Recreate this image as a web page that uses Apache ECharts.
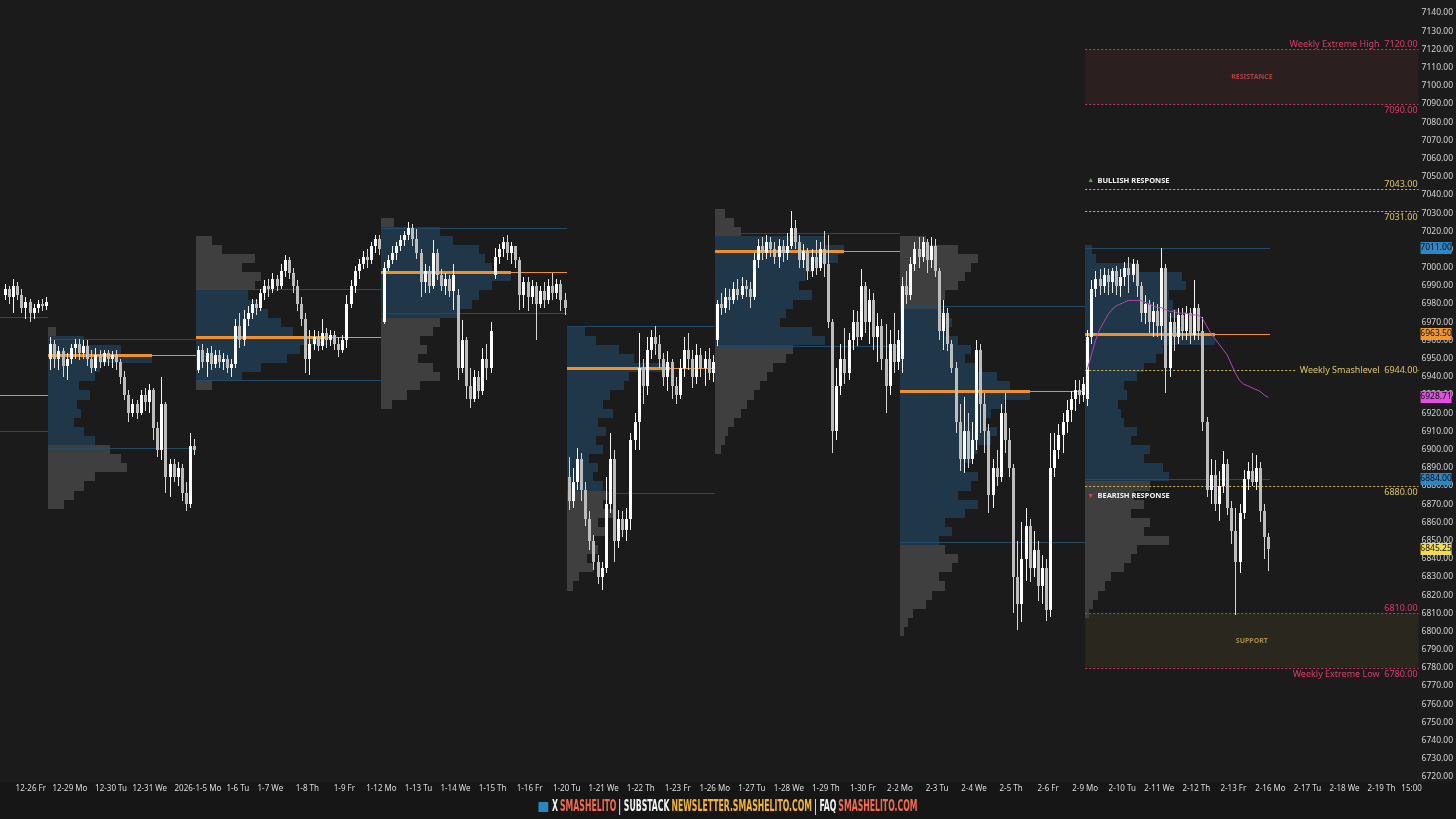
<!DOCTYPE html>
<html>
<head>
<meta charset="utf-8">
<script src="https://cdn.jsdelivr.net/npm/echarts@6/dist/echarts.min.js"></script>
<style>
html,body{margin:0;padding:0;background:#161616;}
#c{width:1456px;height:819px;background:linear-gradient(#1b1b1b 0,#1b1b1b 782px,#161616 782px,#161616 819px);}
</style>
</head>
<body>
<div id="c"></div>
<script>
// ---------------- DATA ----------------
// time axis: 9 bar slots per trading day
const dayLabels = ['12-26 Fr','12-29 Mo','12-30 Tu','12-31 We','2026-1-5 Mo','1-6 Tu','1-7 We','1-8 Th','1-9 Fr',
  '1-12 Mo','1-13 Tu','1-14 We','1-15 Th','1-16 Fr','1-20 Tu','1-21 We','1-22 Th','1-23 Fr','1-26 Mo','1-27 Tu','1-28 We',
  '1-29 Th','1-30 Fr','2-2 Mo','2-3 Tu','2-4 We','2-5 Th','2-6 Fr','2-9 Mo','2-10 Tu','2-11 We','2-12 Th','2-13 Fr',
  '2-16 Mo','2-17 Tu','2-18 We','2-19 Th','15:00'];
const dayLabelSlots = [13.8,23.3,33.3,42.7,54.4,64.1,72,81,90,99,108,117,126,135,144,153,162,171,180,189,198,207,216,
  225,234,243,252,261,270,279,288,297,306,315,324,333,342,349.3];

// candles [open, close, low, high], consecutive slots
const FIRST_SLOT = 7;
const candlesW0 = [[6985,6988,6982,6991],[6988,6984,6980,6990],[6984,6990,6975,6994],[6990,6985,6982,6992],[6985,6978,6975,6988],
  [6978,6981,6972,6984],[6981,6975,6970,6983],[6975,6978,6972,6980],[6978,6980,6975,6982],[6980,6979,6976,6983],[6979,6981,6977,6984]];
const candlesW1 = [[6950,6958,6944,6962],[6958,6950,6945,6960],[6950,6954,6944,6957],[6954,6946,6940,6956],[6946,6950,6938,6953],
  [6950,6956,6947,6958],[6956,6958,6950,6961],[6958,6953,6949,6961],[6953,6957,6950,6960],[6957,6950,6946,6960],[6950,6945,6942,6955],
  [6945,6952,6943,6956],[6952,6948,6945,6955],[6948,6953,6946,6955],[6953,6950,6946,6955],[6950,6952,6945,6954],[6952,6948,6944,6955],
  [6948,6940,6936,6950],[6940,6930,6927,6943],[6930,6920,6915,6933],[6920,6925,6918,6928],[6925,6920,6917,6927],[6920,6930,6919,6933],
  [6930,6926,6921,6934],[6926,6933,6920,6936],[6933,6912,6905,6934],[6912,6900,6896,6915],[6900,6925,6894,6940],[6925,6885,6876,6926],
  [6885,6892,6874,6895],[6892,6885,6882,6895],[6885,6890,6880,6893],[6890,6876,6872,6892],[6876,6870,6866,6882],[6870,6902,6868,6909],
  [6902,6900,6897,6906]];
const candlesW2 = [[6944,6955,6942,6957],[6955,6948,6945,6958],[6948,6953,6940,6956],[6953,6947,6944,6957],[6947,6952,6945,6955],
  [6952,6948,6945,6955],[6948,6950,6944,6953],[6950,6945,6942,6952],[6945,6947,6940,6950],[6947,6968,6945,6972],[6968,6960,6956,6975],
  [6960,6972,6957,6977],[6972,6975,6968,6979],[6975,6980,6972,6983],[6980,6978,6974,6983],[6978,6986,6976,6988],[6986,6990,6982,6993],
  [6990,6988,6984,6994],[6988,6994,6986,6997],[6994,6990,6987,6996],[6990,6998,6988,7002],[6998,7004,6995,7007],[7004,6997,6994,7006],
  [6997,6990,6986,7000],[6990,6980,6976,6993],[6980,6972,6968,6984],[6972,6950,6942,6975],[6950,6958,6941,6966],[6958,6962,6955,6966],
  [6962,6957,6954,6965],[6957,6964,6955,6972],[6964,6960,6956,6967],[6960,6963,6957,6966],[6963,6958,6955,6965],[6958,6955,6951,6962],
  [6955,6960,6953,6963],[6960,6980,6956,6985],[6980,6990,6978,6993],[6990,6998,6986,7001],[6998,7002,6994,7005],[7002,7006,6999,7009],
  [7006,7004,7000,7010],[7004,7012,7002,7014],[7012,7016,7008,7018],[7016,7010,7007,7018]];
const candlesW3 = [[6970,7000,6969,7003],[7000,7004,6998,7007],[7004,7008,7002,7012],[7008,7012,7004,7014],[7012,7015,7009,7018],
  [7015,7018,7012,7020],[7018,7022,7015,7025],[7022,7016,7012,7024],[7016,7008,7005,7021],[7008,6992,6984,7010],[6992,6998,6986,7002],
  [6998,6990,6986,7001],[6990,7008,6988,7015],[7008,6996,6993,7010],[6996,6990,6987,6999],[6990,6994,6985,6997],[6994,6987,6984,6996],
  [6987,6996,6977,7002],[6985,6945,6938,6988],[6945,6960,6942,6971],[6960,6935,6928,6962],[6935,6928,6923,6945],[6928,6940,6926,6944],
  [6940,6932,6928,6943],[6932,6950,6930,6956],[6950,6945,6938,6958],[6945,6965,6942,6970],[6996,7006,6994,7011],[7006,7010,7002,7013],
  [7010,7014,7006,7017],[7014,7008,7004,7018],[7008,7012,7002,7014],[7012,7004,7000,7012],[7004,6985,6977,7006],[6985,6992,6978,6995],
  [6992,6984,6976,6995],[6984,6990,6980,6993],[6990,6980,6960,6992],[6980,6987,6978,6990],[6987,6982,6978,6992],[6982,6990,6980,6994],
  [6990,6986,6982,6997],[6986,6991,6983,6994],[6991,6982,6976,6993],[6982,6978,6974,6986]];
const candlesW4 = [[6885,6872,6867,6896],[6872,6882,6868,6890],[6882,6895,6878,6901],[6895,6878,6872,6898],[6878,6862,6858,6882],
  [6862,6850,6845,6866],[6850,6838,6834,6853],[6838,6830,6826,6842],[6830,6835,6823,6838],[6835,6870,6832,6885],[6870,6895,6865,6909],
  [6895,6850,6838,6900],[6850,6862,6846,6867],[6862,6856,6852,6866],[6856,6862,6850,6868],[6862,6905,6856,6909],[6905,6915,6900,6920],
  [6915,6945,6900,6964],[6945,6935,6925,6950],[6935,6955,6930,6962],[6955,6962,6950,6966],[6962,6958,6952,6968],[6958,6950,6945,6963],
  [6950,6940,6935,6953],[6940,6948,6932,6954],[6948,6935,6928,6950],[6935,6930,6925,6940],[6930,6945,6928,6950],[6945,6955,6940,6962],
  [6955,6950,6944,6964],[6950,6940,6934,6955],[6940,6952,6936,6958],[6952,6945,6940,6956],[6945,6950,6935,6954],[6950,6942,6938,6956],
  [6942,6948,6937,6952]];
const candlesW5 = [[6960,6980,6957,6982],[6980,6978,6974,6986],[6978,6984,6975,6989],[6984,6982,6977,6988],[6982,6988,6980,6992],
  [6988,6985,6982,6994],[6985,6990,6983,6995],[6990,6988,6984,6993],[6988,6984,6978,6992],[6984,7004,6982,7008],[7004,7012,7000,7016],
  [7012,7008,7004,7017],[7008,7014,7005,7018],[7014,7010,7006,7017],[7010,7006,7002,7014],[7006,7012,7000,7016],[7012,7008,7003,7015],
  [7008,7012,7004,7019],[7012,7022,7010,7031],[7022,7014,7010,7026],[7014,7004,7000,7018],[7004,7009,7000,7013],[7009,6998,6993,7011],
  [6998,7006,6995,7010],[7006,7000,6996,7015],[7000,7010,6998,7014],[7010,7002,6995,7020],[7002,6970,6967,7018],[6970,6910,6898,6972],
  [6910,6935,6905,6945],[6935,6950,6930,6958],[6950,6942,6936,6967],[6942,6960,6938,6964],[6960,6970,6955,6977],[6970,6962,6957,6976],
  [6962,6990,6960,6999],[6990,6970,6964,6992],[6970,6982,6958,6988],[6982,6962,6955,6986],[6962,6968,6948,6975],[6968,6950,6944,6972],
  [6950,6935,6920,6969],[6935,6958,6930,6966],[6958,6948,6942,6975],[6948,6960,6944,6966]];
const candlesW6 = [[6950,6990,6942,6995],[6990,6985,6980,6998],[6985,7002,6982,7006],[7002,7010,6998,7014],[7010,7006,7000,7017],
  [7006,7014,7003,7017],[7014,7004,6997,7016],[7004,7012,7000,7017],[7012,6998,6995,7016],[6998,6965,6960,7000],[6965,6975,6955,6982],
  [6975,6958,6954,6978],[6958,6945,6942,6960],[6945,6915,6909,6948],[6915,6895,6888,6925],[6895,6910,6887,6929],[6910,6895,6890,6920],
  [6895,6905,6892,6915],[6905,6955,6900,6960],[6955,6925,6909,6958],[6925,6910,6898,6931],[6910,6875,6865,6914],[6875,6890,6868,6895],
  [6890,6885,6880,6900],[6885,6920,6882,6925],[6920,6905,6898,6931],[6905,6890,6885,6912],[6890,6830,6810,6892],[6830,6815,6801,6850],
  [6815,6840,6805,6860],[6840,6858,6828,6868],[6858,6835,6827,6862],[6835,6845,6830,6855],[6845,6825,6817,6850],[6825,6835,6815,6842],
  [6835,6812,6806,6840],[6812,6890,6808,6909],[6890,6900,6885,6909],[6900,6908,6895,6914],[6908,6915,6898,6920],[6915,6922,6909,6927],
  [6922,6928,6915,6932],[6928,6933,6921,6938],[6933,6930,6925,6938],[6930,6936,6926,6940]];
const candlesW7 = [[6928,6962,6924,6966],[6962,6988,6958,6993],[6988,6994,6984,6998],[6994,6990,6985,6999],[6990,6996,6986,7000],
  [6996,6992,6985,6999],[6992,6998,6986,7000],[6998,6990,6985,7001],[6990,6995,6984,6999],[6995,7000,6990,7003],[7000,6996,6986,7006],
  [6996,7002,6992,7005],[7002,6990,6984,7004],[6990,6975,6970,6992],[6975,6980,6969,6985],[6980,6970,6964,6982],[6970,6976,6962,6981],
  [6976,6968,6962,6980],[6968,7000,6960,7011],[7000,6945,6931,7002],[6945,6970,6940,6975],[6970,6962,6954,6977],[6962,6974,6958,6978],
  [6974,6965,6960,6978],[6965,6975,6960,6979],[6975,6963,6958,6978],[6963,6978,6960,6993],[6978,6965,6960,6980],[6965,6915,6910,6973],
  [6915,6878,6874,6918],[6878,6886,6870,6895],[6886,6870,6866,6894],[6870,6880,6861,6888],[6880,6892,6876,6899],[6892,6868,6864,6895],
  [6868,6855,6848,6872],[6855,6838,6809,6868],[6838,6865,6832,6870],[6865,6884,6862,6889],[6884,6888,6878,6893],[6888,6882,6880,6898],
  [6882,6890,6878,6897],[6890,6866,6860,6893],[6866,6852,6840,6870],[6852,6845.25,6833,6854]];

// weekly VWAP of current week (slots 270..314)
const VWAP_START = 270;
const vwapValues = [6944,6952,6960,6966,6970,6974,6977,6979,6980,6981,6982,6982,6982,6982,6981,6980,6979,6978,6978,6977,
  6976,6976,6975,6975,6975,6974,6974,6974,6972,6968,6964,6961,6958,6955,6952,6947,6942,6938,6936,6935,6934,6933,6932,6930,6928.71];

// weekly volume profiles (5-pt bins, listed from the top bin downward, volume in % of POC)
const BIN = 5;
const profileStarts = [18, 54, 99, 144, 180, 225, 270];
const profileEnds   = [54, 99, 144, 180, 225, 270, 315];
const profileTops   = [6965, 7015, 7025, 6965, 7030, 7015, 7010];
const profilePOC    = [6952, 6962, 6997.5, 6944.8, 7009, 6932, 6963.5];
const profileVAH    = [6961, 6988, 7022, 6968, 7019, 6979, 7011];
const profileVAL    = [6901, 6938, 6975, 6876, 6957, 6849, 6884];
const profileVols = [
  [8,35,70,100,50,45,30,40,28,32,25,35,45,60,70,76,45,35,25,15],
  [12,20,45,35,50,45,40,48,55,65,75,100,80,70,50,35,12],
  [10,45,55,75,80,85,100,85,75,70,60,45,40,30,35,28,40,45,30,20,8],
  [18,28,50,65,100,60,55,42,35,45,30,38,28,35,22,30,25,35,40,35,45,30,38,25,30,20,25,12,6],
  [8,15,20,85,100,95,75,70,65,75,60,55,50,75,85,60,55,45,40,35,30,25,20,15,10,8,5],
  [20,45,60,55,50,45,35,30,35,40,35,45,55,50,60,75,85,100,80,70,65,75,70,60,55,50,60,55,45,60,50,35,40,30,35,45,40,30,35,25,20,10,6,3],
  [5,8,40,75,78,65,68,72,65,75,100,60,55,45,40,30,32,25,28,30,40,35,50,45,60,65,50,38,45,35,50,45,65,40,35,30,20,15,10,6,3]
];
// previous week (profile off-screen): lines only
const prevWeekStart = 0, prevWeekEnd = 18;
const prevPOC = 6930, prevVAH = 6973, prevVAL = 6910;

// right-hand weekly levels
const LEVEL_START = 270;
const zoneLow  = [7090, 6780];
const zoneHigh = [7120, 6810];
const zoneNames = ['RESISTANCE', 'SUPPORT'];
const levelPrices = [7120, 7090, 7043, 7031, 6944, 6880, 6810, 6780];
const levelTexts = ['Weekly Extreme High  7120.00','7090.00','7043.00','7031.00','Weekly Smashlevel  6944.00','6880.00','6810.00','Weekly Extreme Low  6780.00'];
const responsePrices = [7043, 6880];
const responseTexts = ['BULLISH RESPONSE', 'BEARISH RESPONSE'];

// axis price tags
const tagPrices = [7011.00, 6963.50, 6928.71, 6884.00, 6845.25];

// ---------------- STYLE ----------------
const XMIN = 6.31, XMAX = 351;
const BG = '#1b1b1b';
const FONT = '"Noto Sans", Roboto, sans-serif';
const POC_COLOR = '#f0902a';
const VA_LINE = '#244a66';
const levelStyle = [
  {line:'#c63a5c', text:'#e0386a', pos:'above'},
  {line:'#c63a5c', text:'#e0386a', pos:'below'},
  {line:'#cdb95c', text:'#dcc665', pos:'above'},
  {line:'#cdb95c', text:'#dcc665', pos:'below'},
  {line:'#cdb95c', text:'#dcc665', pos:'mid'},
  {line:'#cdb95c', text:'#dcc665', pos:'below'},
  {line:'#c63a5c', text:'#e0386a', pos:'above'},
  {line:'#c63a5c', text:'#e0386a', pos:'below'}
];
const zoneStyle = [{fill:'#2b1f1f', text:'#a8413f'}, {fill:'#29271e', text:'#a88f45'}];
const tagStyle = [
  {bg:'#2f86c4', fg:'#0d0d0d'}, {bg:'#f0962e', fg:'#0d0d0d'}, {bg:'#e04fe0', fg:'#0d0d0d'},
  {bg:'#2f86c4', fg:'#0d0d0d'}, {bg:'#f2dc4e', fg:'#0d0d0d'}
];

// ---------------- BUILD ----------------
const allCandles = [].concat(candlesW0, candlesW1, candlesW2, candlesW3, candlesW4, candlesW5, candlesW6, candlesW7);
const candleData = allCandles.map((c, i) => [FIRST_SLOT + i, c[0], c[1], c[2], c[3]]);

const profileRows = [];
profileVols.forEach((vols, w) => {
  vols.forEach((v, i) => {
    const p = profileTops[w] - i * BIN;
    const inVA = (p >= profileVAL[w] && p <= profileVAH[w]) ? 1 : 0;
    profileRows.push([profileStarts[w], p, v, w, inVA]);
  });
});
const profileLines = [];
profileStarts.forEach((s, w) => {
  profileLines.push([s, profileVAH[w], profileEnds[w], 1, w]);
  profileLines.push([s, profileVAL[w], profileEnds[w], 1, w]);
  profileLines.push([s, profilePOC[w], profileEnds[w], 0, w]);
});
profileLines.push([prevWeekStart, prevVAH, prevWeekEnd, 1, -1]);
profileLines.push([prevWeekStart, prevVAL, prevWeekEnd, 1, -1]);
profileLines.push([prevWeekStart, prevPOC, prevWeekEnd, 0, -1]);

const vwapData = vwapValues.map((v, i) => [VWAP_START + i + 0.5, v]);
const labelMap = {};
dayLabelSlots.forEach((s, i) => { labelMap[s] = dayLabels[i]; });

function renderCandle(params, api) {
  const x = api.value(0) + 0.5;
  const o = api.value(1), c = api.value(2), l = api.value(3), h = api.value(4);
  const pO = api.coord([x, o]), pC = api.coord([x, c]), pL = api.coord([x, l]), pH = api.coord([x, h]);
  const up = c >= o;
  const cx = Math.round(pO[0]);
  const top = Math.round(Math.min(pO[1], pC[1]));
  const bot = Math.round(Math.max(pO[1], pC[1]));
  return {type:'group', children:[
    {type:'rect', shape:{x: cx, y: Math.round(pH[1]), width: 1, height: Math.max(1, Math.round(pL[1]) - Math.round(pH[1]))},
      style:{fill: up ? '#f4f4f4' : '#d6d6d6'}},
    {type:'rect', shape:{x: cx - 1, y: top, width: 3, height: Math.max(1, bot - top)}, style:{fill: up ? '#ffffff' : '#bdbdbd'}}
  ]};
}

function renderProfile(params, api) {
  const start = api.value(0), p = api.value(1), v = api.value(2), w = api.value(3), inVA = api.value(4);
  const span = profileEnds[w] - profileStarts[w];
  const len = v / 100 * 0.7 * span;
  const a = api.coord([start, p + BIN/2]);
  const b = api.coord([start + len, p - BIN/2]);
  const x0 = Math.round(a[0]), y0 = Math.round(a[1]), y1 = Math.round(b[1]);
  return {type:'rect', shape:{x:x0, y:y0, width:Math.max(1, Math.round(b[0]) - x0), height:y1 - y0},
    style:{fill: inVA ? '#1f3748' : '#3f3f3f'}};
}

function renderProfileLine(params, api) {
  const s = api.value(0), p = api.value(1), e = api.value(2), kind = api.value(3), w = api.value(4);
  const a = api.coord([s, p]), b = api.coord([e, p]);
  const y = Math.round(a[1]);
  const x0 = Math.round(a[0]);
  const children = [{type:'rect', shape:{x:x0, y:y, width:Math.round(b[0]) - x0, height:1},
    style:{fill: kind === 0 ? POC_COLOR : VA_LINE}}];
  if (kind === 0 && w >= 0) {
    const span = profileEnds[w] - profileStarts[w];
    const c = api.coord([s + 0.7 * span, p]);
    children.push({type:'rect', shape:{x:x0, y:y-1, width:Math.round(c[0]) - x0, height:3}, style:{fill: POC_COLOR}});
  }
  return {type:'group', children};
}

function renderZone(params, api) {
  const i = api.value(3);
  const a = api.coord([api.value(0), api.value(2)]);
  const b = api.coord([XMAX, api.value(1)]);
  return {type:'group', children:[
    {type:'rect', shape:{x:a[0], y:a[1], width:b[0]-a[0], height:b[1]-a[1]}, style:{fill: zoneStyle[i].fill}},
    {type:'text', style:{text: zoneNames[i], x:(a[0]+b[0])/2, y:(a[1]+b[1])/2, align:'center', verticalAlign:'middle',
      fill: zoneStyle[i].text, font:'bold 7px ' + FONT}}
  ]};
}

function renderLevel(params, api) {
  const i = api.value(2), p = api.value(1);
  const a = api.coord([api.value(0), p]);
  const b = api.coord([XMAX, p]);
  const st = levelStyle[i];
  const y = Math.round(a[1]) + 0.5;
  const tx = b[0] - 1;
  let ty = y, va = 'middle';
  if (st.pos === 'above') { ty = y - 1; va = 'bottom'; }
  if (st.pos === 'below') { ty = y + 1; va = 'top'; }
  const txt = {type:'text', z2: 10, style:{text: levelTexts[i], x: tx, y: ty, align:'right', verticalAlign: va,
    fill: st.text, font:'9px ' + FONT}};
  if (st.pos === 'mid') { txt.style.backgroundColor = BG; txt.style.padding = [0, 0, 0, 4]; }
  return {type:'group', children:[
    {type:'line', shape:{x1:a[0], y1:y, x2:b[0], y2:y}, style:{stroke: st.line, lineWidth:1, lineDash:[2,2]}},
    txt
  ]};
}

function renderResponse(params, api) {
  const i = api.value(2);
  const a = api.coord([api.value(0), api.value(1)]);
  const up = i === 0;
  return {type:'text', style:{
    text: (up ? '{g|▲}' : '{r|▼}') + ' {t|' + responseTexts[i] + '}',
    x: a[0] + 2, y: up ? a[1] - 9 : a[1] + 10, align:'left', verticalAlign:'middle',
    rich:{
      g:{fill:'#4cb04c', font:'7px ' + FONT},
      r:{fill:'#e0443a', font:'7px ' + FONT},
      t:{fill:'#f2f2f2', font:'bold 7.5px ' + FONT}
    }}};
}

function renderTag(params, api) {
  const i = api.value(2);
  const a = api.coord([XMAX, api.value(1)]);
  const x = a[0] + 2, y = Math.round(a[1]);
  return {type:'group', children:[
    {type:'rect', shape:{x:x, y:y-6, width:31, height:12}, style:{fill: tagStyle[i].bg}},
    {type:'text', style:{text: api.value(1).toFixed(2), x: x + 15.5, y: y, align:'center', verticalAlign:'middle',
      fill: tagStyle[i].fg, font:'8.5px ' + FONT}}
  ]};
}

const chart = echarts.init(document.getElementById('c'), null, {renderer:'canvas'});
const option = {
  backgroundColor: 'transparent',
  animation: false,
  grid: {left: 0, right: 36, top: 13, bottom: 42},
  xAxis: {
    type: 'value', min: XMIN, max: XMAX,
    axisLine: {show:false}, axisTick: {show:false}, splitLine: {show:false},
    axisLabel: {customValues: dayLabelSlots, formatter: v => labelMap[v] || '', color:'#dcdcdc',
      fontSize: 8, fontFamily: FONT, margin: 8}
  },
  yAxis: {
    type: 'value', position: 'right', min: 6720, max: 7140, interval: 10,
    axisLine: {show:false}, axisTick: {show:false}, splitLine: {show:false},
    axisLabel: {formatter: v => v.toFixed(2), color:'#d4d4d4', fontSize: 8.5, fontFamily: FONT, margin: 3}
  },
  series: [
    {type:'custom', name:'zones', renderItem: renderZone, z: 1,
      data: zoneLow.map((lo, i) => [LEVEL_START, lo, zoneHigh[i], i]), encode:{x:0, y:[1,2]}},
    {type:'custom', name:'profiles', renderItem: renderProfile, z: 2, data: profileRows, encode:{x:0, y:1}},
    {type:'custom', name:'profileLines', renderItem: renderProfileLine, z: 3, data: profileLines, encode:{x:[0,2], y:1}},
    {type:'custom', name:'levels', renderItem: renderLevel, z: 4,
      data: levelPrices.map((p, i) => [LEVEL_START, p, i]), encode:{x:0, y:1}},
    {type:'custom', name:'responses', renderItem: renderResponse, z: 4,
      data: responsePrices.map((p, i) => [LEVEL_START, p, i]), encode:{x:0, y:1}},
    {type:'custom', name:'candles', renderItem: renderCandle, z: 5, data: candleData, encode:{x:0, y:[1,2,3,4]}},
    {type:'line', name:'vwap', data: vwapData, z: 6, showSymbol:false, symbol:'none',
      lineStyle:{color:'#b347b8', width:1}},
    {type:'custom', name:'tags', renderItem: renderTag, z: 10, clip: false,
      data: tagPrices.map((p, i) => [XMAX, p, i]), encode:{x:0, y:1}}
  ],
  graphic: [{
    type:'text', x: 728, y: 807, scaleX: 0.575,
    style:{
      text: '{sq|}  {w|X} {r|SMASHELITO} {w|| SUBSTACK} {y|NEWSLETTER.SMASHELITO.COM} {w|| FAQ} {r|SMASHELITO.COM}',
      align:'center', verticalAlign:'middle',
      rich:{
        sq:{backgroundColor:'#2b84c6', width:17, height:10},
        w:{fill:'#f2f2f2', font:'bold 15px "DejaVu Sans Condensed", "DejaVu Sans", sans-serif'},
        r:{fill:'#f06a4c', font:'bold 15px "DejaVu Sans Condensed", "DejaVu Sans", sans-serif'},
        y:{fill:'#f4b632', font:'bold 15px "DejaVu Sans Condensed", "DejaVu Sans", sans-serif'}
      }
    }
  }]
};
chart.setOption(option);
</script>
</body>
</html>
